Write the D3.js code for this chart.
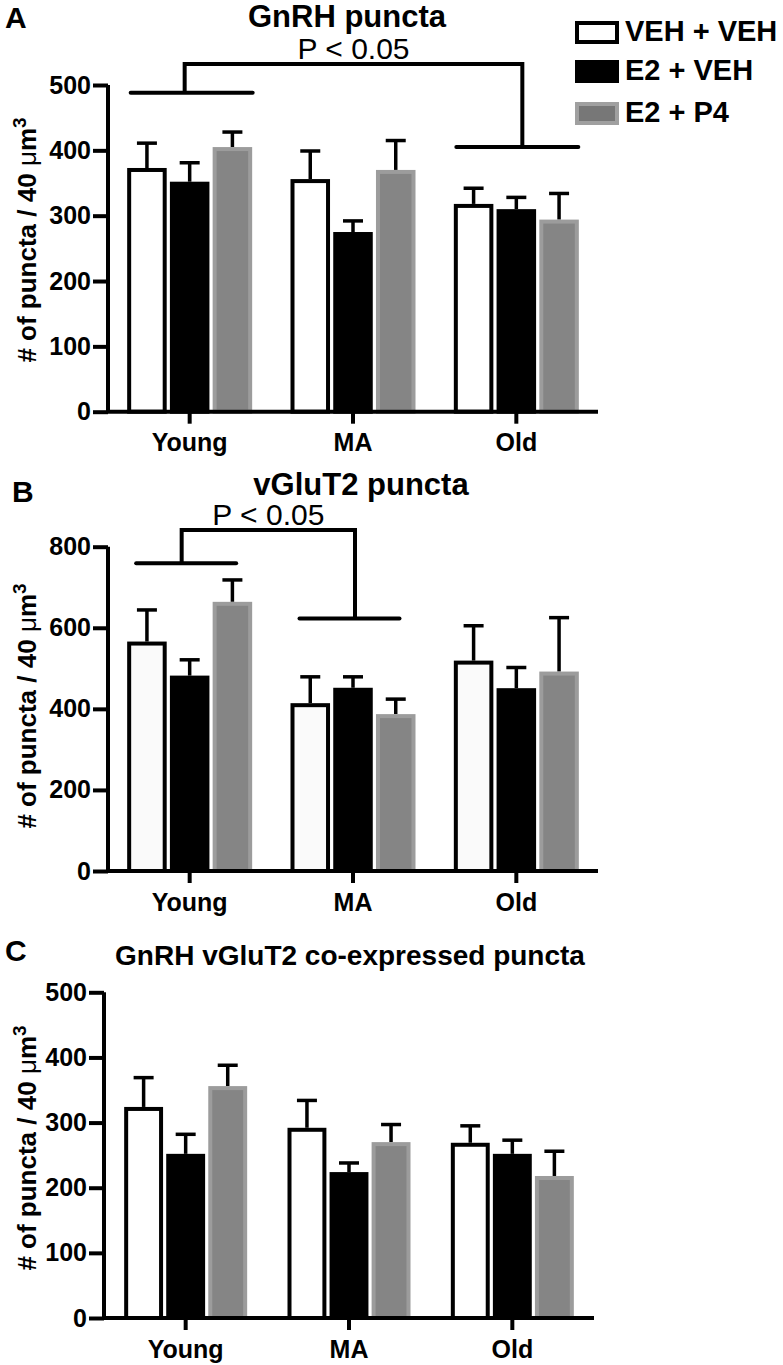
<!DOCTYPE html>
<html><head><meta charset="utf-8">
<script src="https://cdn.jsdelivr.net/npm/d3@7"></script>
<style>
body{margin:0;background:#fff}
text{font-family:"Liberation Sans",Arial,Helvetica,sans-serif;fill:#000}
</style>
</head><body>
<svg id="chart" width="783" height="1365"></svg>
<script>
// ---------- data ----------
const categories = ["Young", "MA", "Old"];
const series = ["VEH + VEH", "E2 + VEH", "E2 + P4"];

// means [category][series]
const gnrhMeans  = [[373, 352, 405], [356, 275, 370], [318, 310, 294]];
const gnrhSEM    = [[38, 29, 23], [43, 17, 45], [24, 18, 40]];
const vglutMeans = [[566, 482, 664], [414, 452, 387], [519, 451, 492]];
const vglutSEM   = [[78, 39, 54], [65, 27, 37], [86, 51, 133]];
const coMeans    = [[324, 252, 356], [292, 224, 270], [269, 252, 218]];
const coSEM      = [[45, 30, 32], [42, 14, 27], [26, 21, 38]];

const ticksA = [0, 100, 200, 300, 400, 500];
const ticksB = [0, 200, 400, 600, 800];
const ticksC = [0, 100, 200, 300, 400, 500];

const titles = ["GnRH puncta", "vGluT2 puncta", "GnRH vGluT2 co-expressed puncta"];
const panelLetters = ["A", "B", "C"];
const sigLabel = "P < 0.05";
// significance brackets: [leftGroup, rightGroup, leftLevel, rightLevel, topLevel]
const bracketA = ["Young", "Old", 488, 405, 532];
const bracketB = ["Young", "MA", 759, 623, 841];

// ---------- layout ----------
const svg = d3.select("#chart");
const FONT = '"Liberation Sans",Arial,Helvetica,sans-serif';
const fills = ["#ffffff", "#000000", "#858585"];

const panels = [
  {means: gnrhMeans, sem: gnrhSEM, ticks: ticksA, yMax: 500, x0: 108, x1: 598, yTop: 85, yBot: 411.7,
   title: titles[0], tX: 347, tY: 27, tSize: 31, letter: panelLetters[0], lX: 5, lY: 28, labY: 240,
   white: "#ffffff", groupW: 125, bracket: bracketA,
   br: {lineHalf: 61, lShift: 2, rShift: 1, lV: -5, rV: 6, pY: 59}},
  {means: vglutMeans, sem: vglutSEM, ticks: ticksB, yMax: 800, x0: 108, x1: 598, yTop: 546.7, yBot: 871,
   title: titles[1], tX: 361, tY: 495, tSize: 31, letter: panelLetters[1], lX: 12, lY: 502, labY: 706,
   white: "#fafafa", groupW: 125, bracket: bracketB,
   br: {lineHalf: 50, lShift: -3.5, rShift: -3.5, lV: -8, rV: 2, pY: 525}},
  {means: coMeans, sem: coSEM, ticks: ticksC, yMax: 500, x0: 104, x1: 594, yTop: 992.3, yBot: 1318,
   title: titles[2], tX: 350, tY: 965, tSize: 28, letter: panelLetters[2], lX: 5, lY: 961, labY: 1148,
   white: "#ffffff", groupW: 123, bracket: null}
];

panels.forEach(p => {
  const g = svg.append("g");
  const x = d3.scaleBand().domain(categories).range([p.x0, p.x1]).paddingInner(0).paddingOuter(0);
  const y = d3.scaleLinear().domain([0, p.yMax]).range([p.yBot, p.yTop]);
  const xi = d3.scaleBand().domain(series).range([-p.groupW / 2, p.groupW / 2]).paddingInner(0.075);
  const cx = c => x(c) + x.bandwidth() / 2;

  // bars
  categories.forEach((c, ci) => {
    series.forEach((s, si) => {
      const v = p.means[ci][si], e = p.sem[ci][si];
      const bx = cx(c) + xi(s), bw = xi.bandwidth();
      const mid = bx + bw / 2;
      // error bar (upper only)
      g.append("line").attr("x1", mid).attr("x2", mid).attr("y1", y(v)).attr("y2", y(v + e))
        .attr("stroke", "#000").attr("stroke-width", 3.5);
      g.append("line").attr("x1", mid - 10).attr("x2", mid + 10).attr("y1", y(v + e)).attr("y2", y(v + e))
        .attr("stroke", "#000").attr("stroke-width", 3.5);
      const r = g.append("rect").attr("x", bx + 2).attr("width", bw - 4)
        .attr("y", y(v) + 2).attr("height", y(0) - y(v) - 2);
      if (si === 0) r.attr("fill", p.white).attr("stroke", "#000").attr("stroke-width", 4);
      else if (si === 1) r.attr("fill", "#000").attr("stroke", "#000").attr("stroke-width", 4);
      else r.attr("fill", fills[2]).attr("stroke", "#9c9c9c").attr("stroke-width", 4);
    });
  });

  // y axis
  const ya = d3.axisLeft(y).tickValues(p.ticks).tickSize(15).tickPadding(2).tickSizeOuter(0);
  const yg = g.append("g").attr("transform", `translate(${p.x0},0)`).call(ya);
  yg.select(".domain").attr("stroke", "#000").attr("stroke-width", 4).attr("d", `M0,${p.yTop}V${p.yBot}`);
  yg.selectAll(".tick line").attr("stroke", "#000").attr("stroke-width", 4);
  yg.selectAll(".tick text").attr("font-family", FONT).attr("font-size", 25).attr("font-weight", "bold").attr("fill", "#000");

  // x axis
  const xa = d3.axisBottom(x).tickSize(12).tickSizeOuter(0).tickPadding(10);
  const xg = g.append("g").attr("transform", `translate(0,${p.yBot})`).call(xa);
  xg.select(".domain").attr("stroke", "#000").attr("stroke-width", 4).attr("d", `M${p.x0 - 2},0H${p.x1}`);
  xg.selectAll(".tick line").attr("stroke", "#000").attr("stroke-width", 4);
  xg.selectAll(".tick text").attr("font-family", FONT).attr("font-size", 25).attr("font-weight", "bold").attr("fill", "#000");

  // y label
  const lab = g.append("text").attr("transform", `translate(36,${p.labY}) rotate(-90)`)
    .attr("text-anchor", "middle").attr("font-size", 26).attr("font-weight", "bold");
  lab.append("tspan").text("# of puncta / 40 ");
  lab.append("tspan").attr("font-weight", "normal").text("\u03BC");
  lab.append("tspan").text("m");
  lab.append("tspan").attr("font-size", 19).attr("dy", -10).text("3");

  // title & letter
  g.append("text").attr("x", p.tX).attr("y", p.tY).attr("text-anchor", "middle")
    .attr("font-size", p.tSize).attr("font-weight", "bold").text(p.title);
  g.append("text").attr("x", p.lX).attr("y", p.lY).attr("font-size", 30).attr("font-weight", "bold").text(p.letter);

  // bracket
  if (p.bracket) {
    const [lc, rc, lLev, rLev, tLev] = p.bracket, b = p.br;
    const lx = cx(lc), rx = cx(rc);
    const st = sel => sel.attr("stroke", "#000").attr("stroke-width", 4).attr("fill", "none");
    g.append("line").attr("x1", lx + b.lShift - b.lineHalf).attr("x2", lx + b.lShift + b.lineHalf)
      .attr("y1", y(lLev)).attr("y2", y(lLev)).call(st).attr("stroke-linecap", "round");
    g.append("line").attr("x1", rx + b.rShift - b.lineHalf).attr("x2", rx + b.rShift + b.lineHalf)
      .attr("y1", y(rLev)).attr("y2", y(rLev)).call(st).attr("stroke-linecap", "round");
    g.append("path").attr("d", `M${lx + b.lV},${y(lLev)}V${y(tLev)}H${rx + b.rV}V${y(rLev)}`).call(st);
    g.append("text").attr("x", (lx + b.lV + rx + b.rV) / 2).attr("y", b.pY).attr("text-anchor", "middle")
      .attr("font-size", 30).text(sigLabel);
  }
});

// legend
const leg = svg.append("g");
const legY = [21, 60, 102];
series.forEach((s, i) => {
  const r = leg.append("rect").attr("x", 577).attr("y", legY[i] + 2).attr("width", 40).attr("height", 19);
  if (i === 0) r.attr("fill", "#fff").attr("stroke", "#000").attr("stroke-width", 4);
  else if (i === 1) r.attr("fill", "#000").attr("stroke", "#000").attr("stroke-width", 4);
  else r.attr("fill", "#777").attr("stroke", "#a0a0a0").attr("stroke-width", 4);
  leg.append("text").attr("x", 625).attr("y", legY[i] + 20).attr("font-size", 29).attr("font-weight", "bold").text(s);
});
</script>
</body></html>
